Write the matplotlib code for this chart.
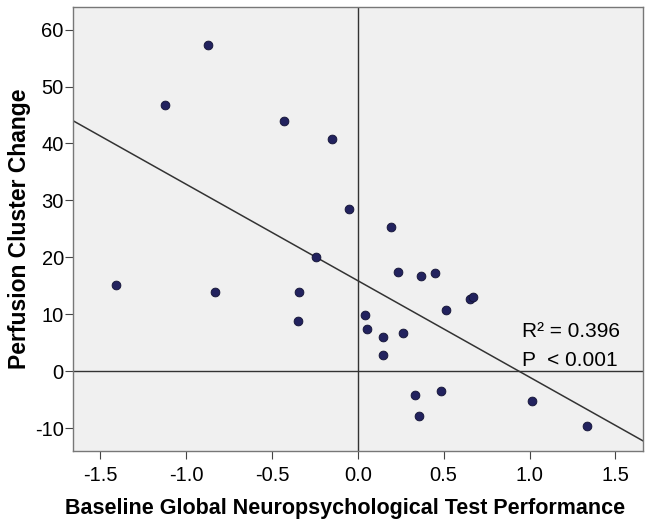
import numpy as np
import matplotlib.pyplot as plt

# baseline global neuropsych performance (z) vs perfusion cluster change
perf_x = [-0.874, -1.123, -0.431, -0.153, -0.051, 0.196, -0.242, -1.409, -0.833,
          -0.344, -0.351, 0.041, 0.051, 0.148, 0.264, 0.148, 0.232, 0.370, 0.448,
          0.513, 0.656, 0.673, 0.332, 0.358, 0.484, 1.017, 1.337]
perf_y = [57.3, 46.7, 43.9, 40.8, 28.5, 25.3, 20.0, 15.2, 13.9,
          13.9, 8.9, 9.8, 7.5, 6.1, 6.7, 2.9, 17.5, 16.8, 17.2,
          10.7, 12.7, 13.0, -4.2, -7.9, -3.5, -5.2, -9.7]
x_ticks = [-1.5, -1.0, -0.5, 0.0, 0.5, 1.0, 1.5]
y_ticks = [-10, 0, 10, 20, 30, 40, 50, 60]
stats_lines = ["R² = 0.396", "P  < 0.001"]

plt.rcParams['font.family'] = ['Liberation Sans', 'DejaVu Sans']
plt.rcParams['axes.unicode_minus'] = False

fig = plt.figure(figsize=(6.5, 5.25), dpi=100)
ax = fig.add_axes([0.112, 0.141, 0.877, 0.846])
ax.set_facecolor('#f0f0f0')

xlim = (-1.66, 1.66)
ax.set_xlim(xlim)
ax.set_ylim(-14, 64)

ax.axvline(0, color='#333333', lw=1.0, zorder=1)
ax.axhline(0, color='#333333', lw=1.0, zorder=1)

# linear fit
slope, intercept = np.polyfit(perf_x, perf_y, 1)
xs = np.array(xlim)
ax.plot(xs, slope * xs + intercept, color='#333333', lw=1.1, zorder=2)

ax.scatter(perf_x, perf_y, s=40, color='#22225e', edgecolor='#111133', lw=0.6, zorder=3)

ax.text(0.955, 6.1, stats_lines[0], fontsize=15, va='baseline', ha='left')
ax.text(0.955, 0.9, stats_lines[1], fontsize=15, va='baseline', ha='left')

ax.set_xticks(x_ticks)
ax.set_xticklabels(["%.1f" % v for v in x_ticks])
ax.set_yticks(y_ticks)
ax.tick_params(direction='out', length=5.5, width=0.8, color='#444444', labelsize=14.5,
               labelcolor='black')
ax.tick_params(axis='x', pad=5)
ax.tick_params(axis='y', pad=1)
for s in ax.spines.values():
    s.set_color('#777777')
    s.set_linewidth(1.0)

ax.set_xlabel("Baseline Global Neuropsychological Test Performance", fontsize=15.5,
              fontweight='bold', labelpad=10)
ax.xaxis.label.set_x(0.477)
ax.set_ylabel("Perfusion Cluster Change", fontsize=16.5, fontweight='bold', labelpad=3)

fig.savefig("out.png", dpi=100)
